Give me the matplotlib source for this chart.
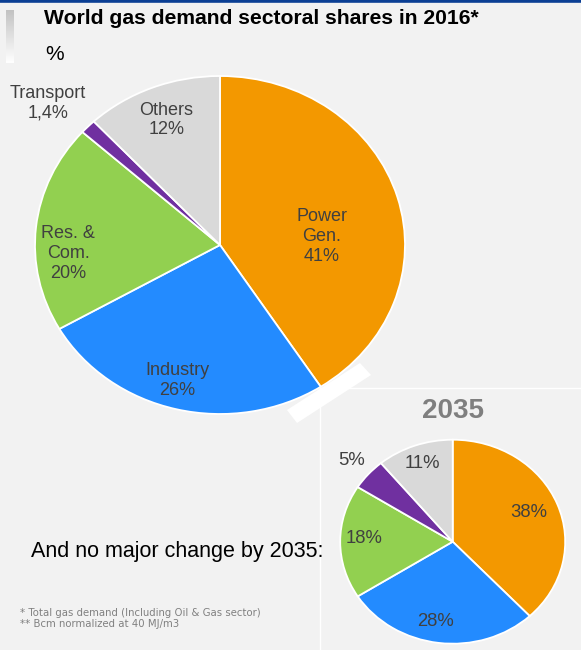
import matplotlib.pyplot as plt
import numpy as np
from matplotlib.patches import Polygon
from matplotlib.lines import Line2D

# data
sectors = ['Power\nGen.', 'Industry', 'Res. &\nCom.', 'Transport', 'Others']
share_2016 = [41, 26, 20, 1.4, 12]
share_2016_txt = ['41%', '26%', '20%', '1,4%', '12%']
share_2035 = [38, 28, 18, 5, 11]
colors = ['#f39800', '#238bff', '#92d050', '#7030a0', '#d9d9d9']

# label spots, in units of the pie radius
pos_2016 = [(0.55, 0.05), (-0.23, -0.80), (-0.82, -0.05), (-0.93, 0.84), (-0.29, 0.74)]
pos_2035 = [(0.68, 0.29), (-0.15, -0.78), (-0.79, 0.03), (-0.90, 0.80), (-0.27, 0.77)]

W, H = 581, 650
BG = '#f2f2f2'
TXT = '#404040'
plt.rcParams['font.family'] = ['Liberation Sans', 'DejaVu Sans']

fig = plt.figure(figsize=(W / 100, H / 100), dpi=100, facecolor=BG)


def px(x, y):
    return x / W, 1 - y / H


def pie_axes(cx, cy, rx, ry, pad=1.05):
    l, t = px(cx - rx * pad, cy - ry * pad)
    ax = fig.add_axes([l, t - 2 * ry * pad / H, 2 * rx * pad / W, 2 * ry * pad / H])
    ax.set_xlim(-pad, pad)
    ax.set_ylim(-pad, pad)
    ax.axis('off')
    return ax


# decoration behind the pies
fig.add_artist(Line2D([0, 1], [1 - 1.2 / H] * 2, transform=fig.transFigure,
                      color='#0b3f94', lw=2.6))
fig.add_artist(Line2D([320 / W, 320 / W, 1], [0, 1 - 388 / H, 1 - 388 / H],
                      transform=fig.transFigure, color='white', lw=1))
fig.add_artist(Polygon([px(287, 410), px(297, 423), px(371, 375), px(360, 363)],
                       closed=True, transform=fig.transFigure, fc='white', ec='none'))

# gradient bar left of the title
gax = fig.add_axes([6 / W, 1 - 63 / H, 8 / W, 53 / H])
grad = np.linspace(0.76, 1.0, 100).reshape(-1, 1)
gax.imshow(grad, cmap='gray', vmin=0, vmax=1, aspect='auto')
gax.axis('off')

fig.text(44 / W, 1 - 19 / H, 'World gas demand sectoral shares in 2016*',
         fontsize=15.2, fontweight='bold', color='black', va='center')
fig.text(45 / W, 1 - 55 / H, '%', fontsize=15, color='black', va='center')

# 2016 pie
ax1 = pie_axes(220, 245, 185, 169)
ax1.pie(share_2016, colors=colors, startangle=90, counterclock=False,
        wedgeprops=dict(edgecolor='white', linewidth=1.3))
ax1.set_aspect('auto')
ax1.set_xlim(-1.05, 1.05)
ax1.set_ylim(-1.05, 1.05)
for name, val, (x, y) in zip(sectors, share_2016_txt, pos_2016):
    ax1.text(x, y, name + '\n' + val, ha='center', va='center', color=TXT,
             fontsize=13, linespacing=1.22)

# 2035 pie
ax2 = pie_axes(452.7, 541.7, 112.5, 102)
ax2.pie(share_2035, colors=colors, startangle=90, counterclock=False,
        wedgeprops=dict(edgecolor='white', linewidth=1.3))
ax2.set_aspect('auto')
ax2.set_xlim(-1.05, 1.05)
ax2.set_ylim(-1.05, 1.05)
for val, (x, y) in zip(share_2035, pos_2035):
    ax2.text(x, y, f'{val}%', ha='center', va='center', color=TXT, fontsize=13.3)

fig.text(452.7 / W, 1 - 411 / H, '2035', fontsize=20, fontweight='bold',
         color='#7f7f7f', ha='center', va='center')
fig.text(31 / W, 1 - 551 / H, 'And no major change by 2035:', fontsize=15.5,
         color='black', va='center')

fig.text(20 / W, 1 - 613 / H, '* Total gas demand (Including Oil & Gas sector)',
         fontsize=7.3, color='#808080', va='center', family='DejaVu Sans')
fig.text(20 / W, 1 - 624 / H, '** Bcm normalized at 40 MJ/m3',
         fontsize=7.3, color='#808080', va='center', family='DejaVu Sans')

fig.savefig('out.png', dpi=100, facecolor=BG)
